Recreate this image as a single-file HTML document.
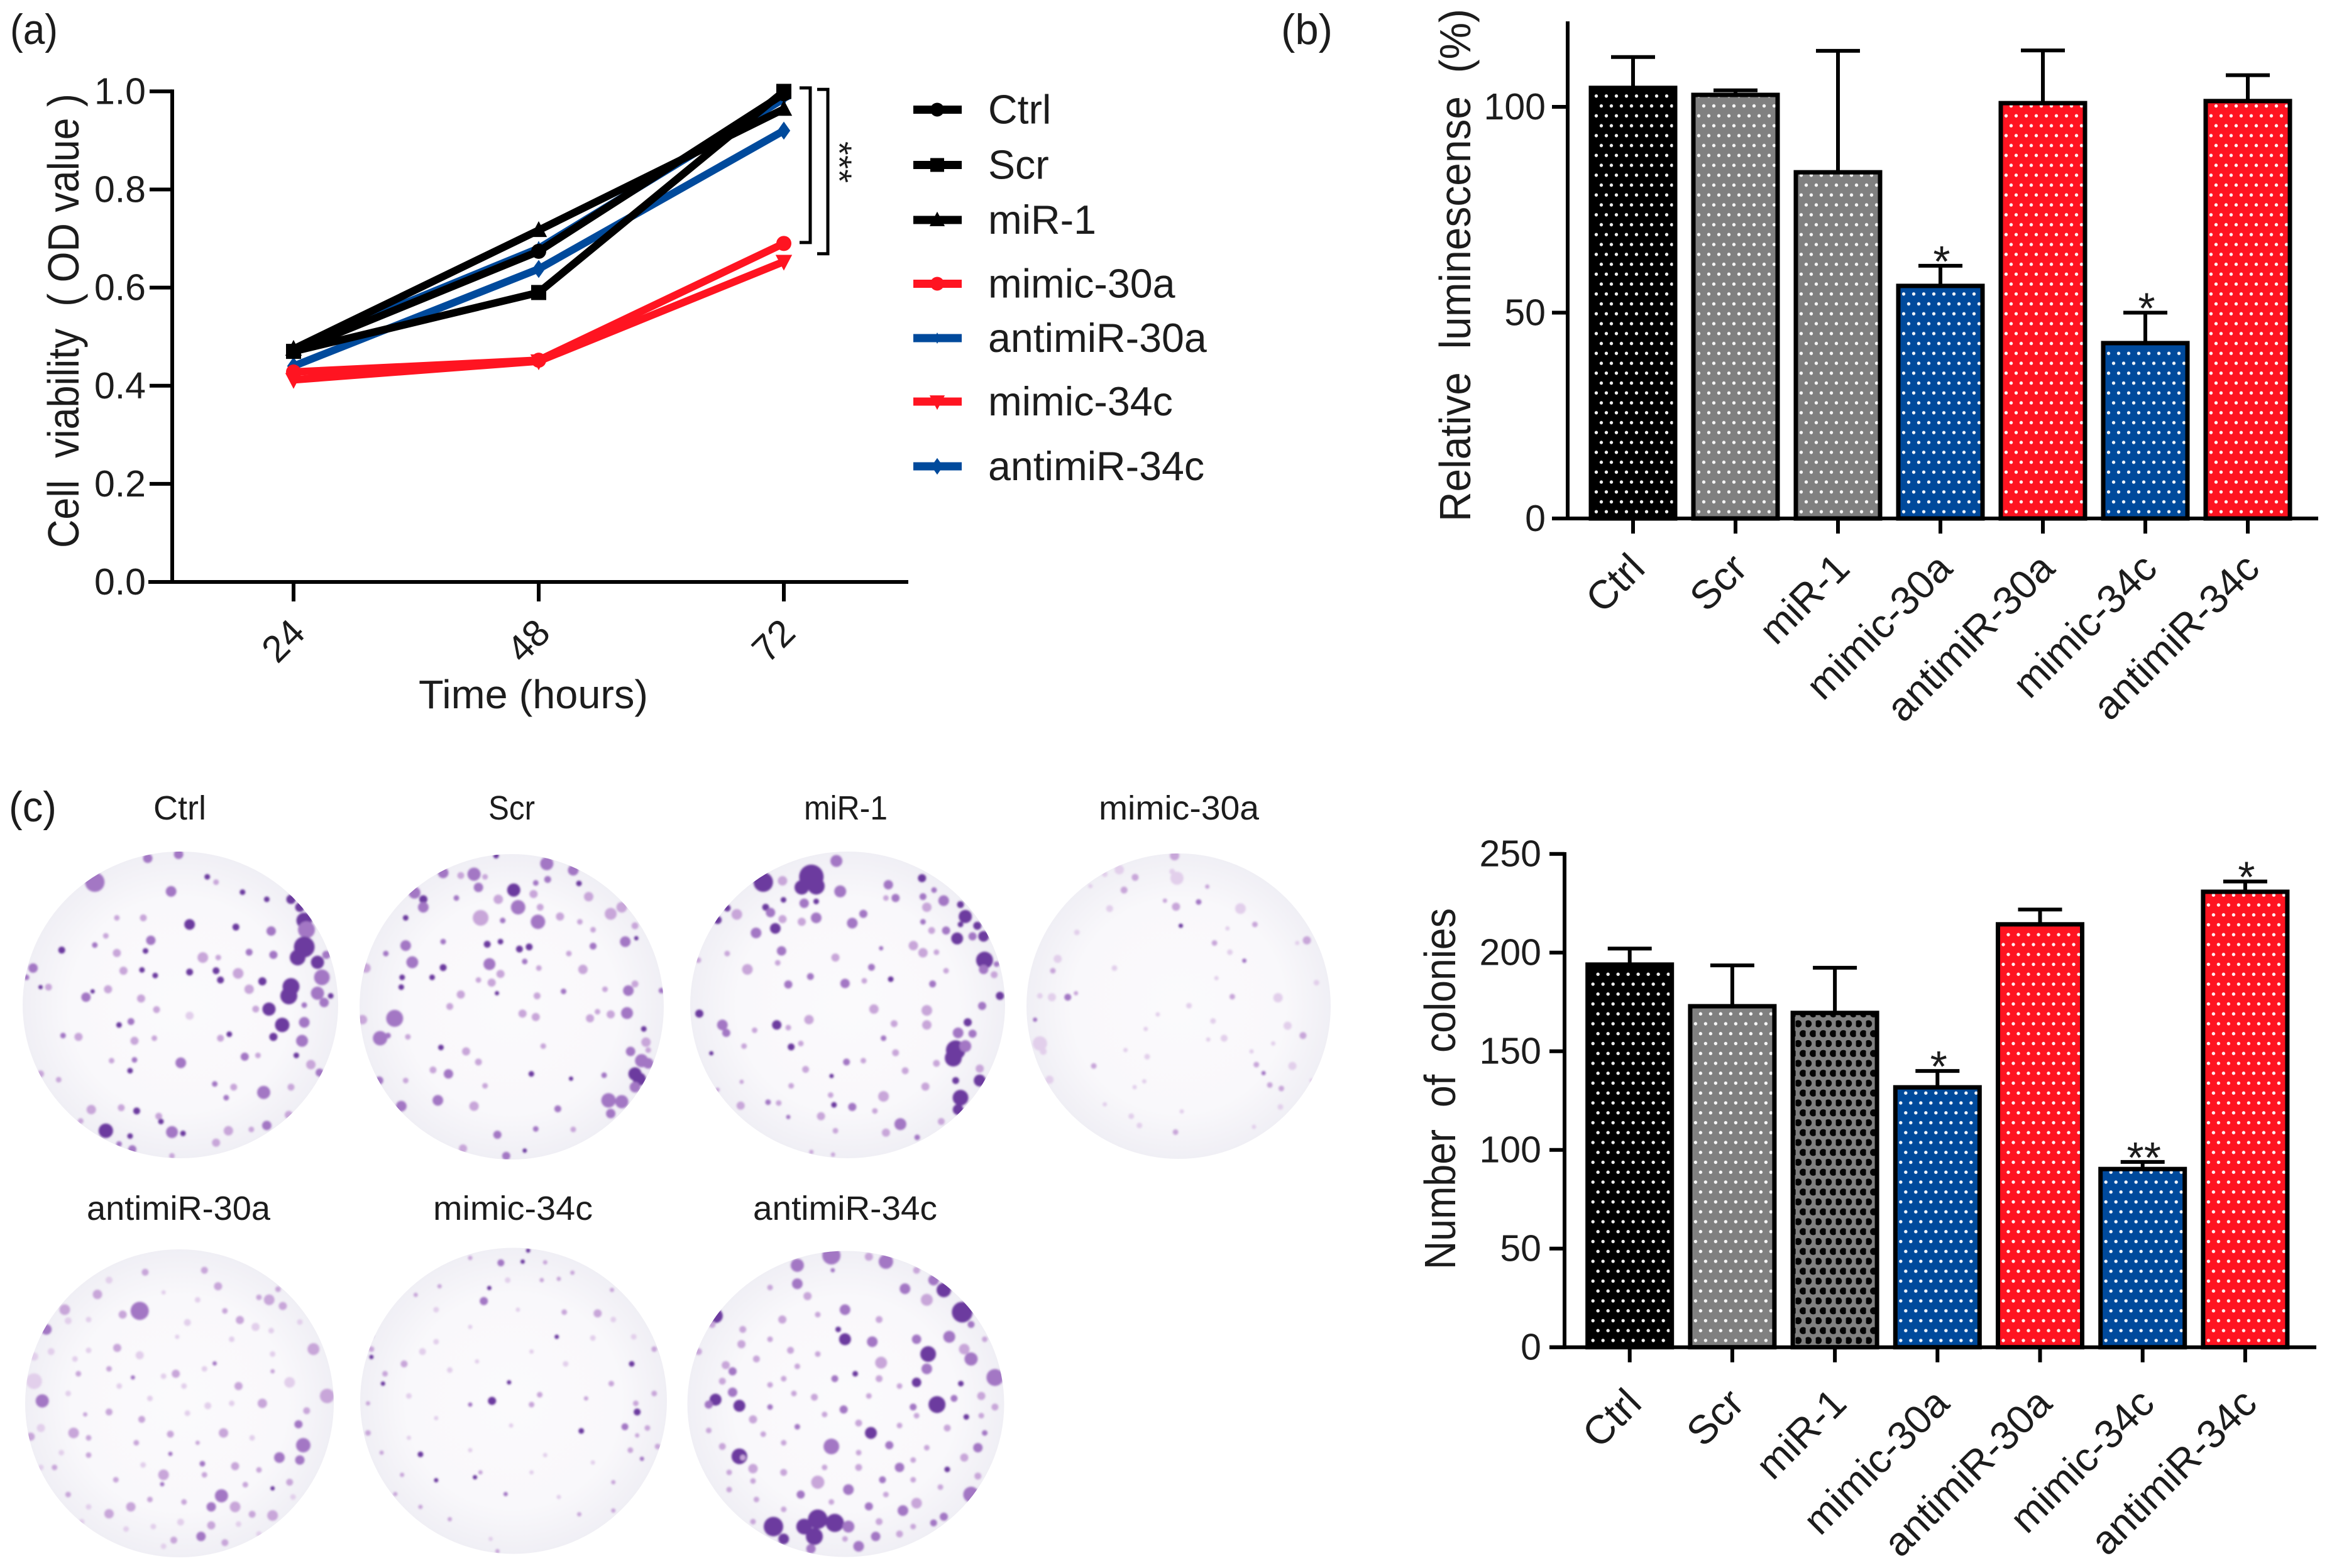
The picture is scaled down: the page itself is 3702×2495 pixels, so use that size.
<!DOCTYPE html>
<html lang="en">
<head>
<meta charset="utf-8">
<title>Cell viability, luminescence and colony formation</title>
<style>
html,body{margin:0;padding:0;background:#fff;width:3702px;height:2495px;overflow:hidden}
svg{display:block}
text{font-family:"Liberation Sans",sans-serif;fill:#1c1c1c;white-space:pre}
</style>
</head>
<body>
<svg id="figure" xmlns="http://www.w3.org/2000/svg" width="3702" height="2495" viewBox="0 0 3702 2495">
  <defs id="defs">
    <filter id="soft" x="-5%" y="-5%" width="110%" height="110%"><feGaussianBlur stdDeviation="1.5"/></filter>
    <radialGradient id="dish-shade" cx="50%" cy="50%" r="50%">
      <stop offset="0%" stop-color="#fbfafc"/>
      <stop offset="70%" stop-color="#f9f8fb"/>
      <stop offset="100%" stop-color="#f0eff5"/>
    </radialGradient>
  </defs>
  <rect width="3702" height="2495" fill="#fff"/>

  <text x="16" y="70" font-size="68" textLength="76" lengthAdjust="spacingAndGlyphs">(a)</text>
  <text x="2038" y="70" font-size="68" textLength="82" lengthAdjust="spacingAndGlyphs">(b)</text>
  <text x="14" y="1307" font-size="68" textLength="76" lengthAdjust="spacingAndGlyphs">(c)</text>

  <g id="panelA">
    <text transform="translate(125 872) rotate(-90)" font-size="70" textLength="723" lengthAdjust="spacingAndGlyphs">Cell  viability  ( OD value )</text>
    <text x="666" y="1127" font-size="64" textLength="365" lengthAdjust="spacingAndGlyphs">Time (hours)</text>
    <g id="legendA"></g>
    <text transform="translate(1316 225) rotate(90)" font-size="56" fill="#333" textLength="66" lengthAdjust="spacing">***</text>
  </g>

  <g id="panelB">
    <text transform="translate(2339 830) rotate(-90)" font-size="70" textLength="816" lengthAdjust="spacingAndGlyphs">Relative  luminescense  (%)</text>
  </g>

  <g id="plates">
    <text x="244" y="1304" font-size="54" textLength="84" lengthAdjust="spacingAndGlyphs">Ctrl</text>
    <text x="777" y="1304" font-size="54" textLength="74" lengthAdjust="spacingAndGlyphs">Scr</text>
    <text x="1279" y="1304" font-size="54" textLength="133" lengthAdjust="spacingAndGlyphs">miR-1</text>
    <text x="1748" y="1304" font-size="54" textLength="255" lengthAdjust="spacingAndGlyphs">mimic-30a</text>
    <text x="138" y="1941" font-size="54" textLength="292" lengthAdjust="spacingAndGlyphs">antimiR-30a</text>
    <text x="689" y="1941" font-size="54" textLength="254" lengthAdjust="spacingAndGlyphs">mimic-34c</text>
    <text x="1198" y="1941" font-size="54" textLength="293" lengthAdjust="spacingAndGlyphs">antimiR-34c</text>
  </g>

  <g id="panelC">
    <text transform="translate(2315 2020) rotate(-90)" font-size="70" textLength="575" lengthAdjust="spacingAndGlyphs">Number  of  colonies</text>
  </g>
</svg>

<script>
// ---------- Panel (a) data ----------
const viabilityTimes = [24, 48, 72];
const viabilityTicks = [0, 0.2, 0.4, 0.6, 0.8, 1.0];
const viabilityCtrl = [0.47, 0.674, 0.995];
const viabilityScr = [0.47, 0.59, 1.0];
const viabilityMir1 = [0.475, 0.717, 0.964];
const viabilityMimic30a = [0.428, 0.452, 0.69];
const viabilityAntimir30a = [0.475, 0.68, 0.985];
const viabilityMimic34c = [0.412, 0.45, 0.653];
const viabilityAntimir34c = [0.44, 0.638, 0.92];
const bracketInner = [1.007, 0.692];
const bracketOuter = [1.004, 0.669];

// ---------- Panel (b) data ----------
const groupNames = ['Ctrl', 'Scr', 'miR-1', 'mimic-30a', 'antimiR-30a', 'mimic-34c', 'antimiR-34c'];
const luminescenceTicks = [0, 50, 100];
const luminescenceValues = [104.6, 102.9, 84.1, 56.5, 100.9, 42.6, 101.4];
const luminescenceErrors = [7.5, 1.1, 29.5, 4.9, 12.8, 7.4, 6.3];
const luminescenceStars = ['', '', '', '*', '', '*', ''];

// ---------- Panel (c) chart data ----------
const coloniesTicks = [0, 50, 100, 150, 200, 250];
const coloniesValues = [193.9, 172.8, 169.4, 131.7, 214.3, 90.3, 230.8];
const coloniesErrors = [8.1, 20.7, 22.9, 8.3, 7.5, 3.6, 5.2];
const coloniesStars = ['', '', '', '*', '', '**', '*'];

// ---------- Colony spots: [x, y, radius, shade] ----------
const spotsCtrl=[[215,365,14,2],[335,275,6,2],[405,260,6,2],[470,345,3,3],[388,400,7,2],[490,365,3,1],[550,403,3,3],[605,430,3,3],[660,430,6,3],[680,460,6,3],[690,510,11,3],[695,545,12,2],[615,550,6,2],[535,535,4,3],[430,525,7,3],[325,500,4,1],[265,500,3,1],[240,568,3,1],[342,585,6,2],[215,603,3,2],[140,622,4,3],[265,633,5,1],[330,625,3,3],[460,650,7,1],[495,650,3,1],[565,630,4,2],[620,640,5,2],[690,610,15,3],[675,650,11,3],[720,668,9,3],[740,640,5,2],[730,725,11,2],[660,760,12,3],[655,795,12,3],[720,785,9,2],[750,795,3,3],[735,820,6,2],[690,830,3,2],[610,845,9,3],[580,845,4,1],[640,905,10,3],[690,895,7,2],[620,950,5,3],[685,965,8,2],[565,770,6,1],[595,740,5,3],[500,735,4,3],[490,700,4,3],[540,710,7,1],[430,705,4,3],[322,697,3,3],[352,718,3,3],[280,700,5,1],[75,690,6,2],[60,725,3,2],[110,762,4,1],[92,762,2,3],[195,800,6,2],[210,778,2,3],[245,770,5,1],[320,805,5,1],[355,847,4,1],[270,905,3,3],[297,892,4,2],[143,945,3,2],[178,950,5,1],[305,965,5,1],[350,955,3,1],[520,940,3,3],[500,955,4,1],[430,870,5,0],[410,1048,7,2],[305,1037,3,2],[253,1040,3,1],[555,1025,5,2],[585,1020,3,1],[672,1020,3,3],[295,1078,3,3],[92,1090,4,1],[705,1055,6,1],[725,1085,5,2],[133,1112,3,1],[487,1128,3,2],[530,1140,4,1],[598,1160,9,2],[660,1140,4,1],[513,1180,3,2],[207,1225,6,1],[275,1218,4,1],[310,1230,4,3],[360,1250,4,1],[655,1245,5,1],[240,1305,10,3],[183,1268,3,1],[390,1310,8,2],[415,1315,3,3],[365,1270,3,3],[518,1305,6,1],[605,1285,6,2],[295,1325,3,3],[300,1375,5,2],[270,1355,3,2],[490,1350,5,1],[570,1300,3,1],[390,1400,3,1]];
const spotsScr=[[1125,265,3,3],[1240,295,9,2],[1300,320,7,2],[1005,330,7,2],[1075,335,9,2],[1045,340,4,1],[1100,345,3,1],[1085,385,6,2],[1242,355,4,2],[1215,368,3,2],[1313,370,3,3],[940,405,8,2],[960,430,5,3],[960,460,7,2],[1165,395,9,3],[1175,460,10,2],[1130,430,6,1],[1210,410,5,1],[1225,460,4,1],[1035,425,3,2],[1090,500,11,1],[1220,515,10,2],[1270,495,5,1],[1335,420,6,1],[1385,485,8,1],[1410,460,7,1],[920,500,3,3],[1140,510,3,2],[1315,515,3,1],[1345,545,3,1],[1440,530,4,1],[860,520,3,1],[920,605,7,2],[875,635,3,2],[935,668,8,2],[1005,590,3,2],[1105,600,4,3],[1135,590,3,3],[1178,618,4,3],[1200,610,4,3],[1345,607,4,2],[1418,590,7,2],[1443,577,2,3],[1290,635,3,1],[1005,688,4,3],[1110,675,8,2],[1135,712,5,1],[1190,665,3,2],[1222,690,3,1],[1322,695,6,1],[830,690,6,1],[912,725,3,3],[980,725,3,3],[1115,745,5,1],[1085,735,3,1],[910,762,3,3],[1045,790,5,1],[1127,785,2,3],[1218,795,4,1],[1278,778,3,2],[1425,775,7,2],[1372,770,3,1],[1440,750,4,1],[1500,775,3,2],[1020,835,4,1],[895,880,12,2],[822,885,6,1],[1185,862,5,1],[1215,875,5,1],[1338,880,5,1],[1385,865,5,1],[1422,860,8,2],[1355,855,3,1],[862,955,10,2],[880,945,3,2],[925,950,3,1],[1000,990,3,3],[1057,1005,5,1],[1232,985,3,1],[1460,920,3,3],[1465,970,6,1],[1430,1005,6,2],[1455,1040,9,2],[1470,1050,7,2],[1440,1090,9,3],[1450,1110,9,3],[1440,1140,7,2],[1470,1000,3,1],[1085,1045,4,1],[982,1075,4,1],[1017,1090,6,2],[1205,1090,3,3],[1295,1108,2,3],[1370,1095,3,2],[860,1115,5,2],[920,1115,3,1],[1100,1135,3,1],[993,1190,7,2],[1380,1190,10,2],[1410,1195,9,2],[1385,1240,6,2],[910,1212,7,2],[1075,1212,6,1],[1265,1222,4,2],[1128,1320,5,2],[1215,1298,3,2],[1300,1300,3,1],[1148,1400,5,2],[1050,1372,5,1],[1190,1380,2,3]];
const spotsMir1=[[380,345,18,3],[390,380,12,3],[360,385,10,3],[432,285,8,2],[280,365,14,3],[320,360,6,1],[440,400,8,2],[365,445,6,2],[322,432,3,3],[390,438,3,3],[285,460,4,3],[295,480,6,2],[320,505,5,1],[225,487,7,1],[205,463,4,3],[185,508,5,3],[305,540,7,3],[265,557,7,2],[360,515,5,1],[390,500,7,2],[465,520,7,2],[488,485,5,2],[540,375,6,2],[555,425,5,2],[535,425,3,1],[610,350,5,3],[635,395,3,2],[612,420,4,2],[620,460,6,1],[655,435,7,2],[690,450,4,3],[700,495,9,3],[690,525,3,3],[725,530,5,3],[660,548,5,2],[630,548,4,1],[683,578,8,3],[715,570,5,2],[738,570,7,3],[612,515,3,2],[525,615,2,2],[592,605,6,1],[612,632,6,1],[640,630,3,1],[318,625,6,2],[430,650,5,1],[247,695,7,1],[205,635,3,1],[145,660,3,1],[310,670,3,1],[505,687,4,2],[740,660,12,3],[738,695,6,2],[765,675,3,2],[378,722,4,2],[332,752,5,2],[450,748,6,2],[545,732,3,3],[490,738,3,1],[632,750,4,2],[660,700,3,1],[760,715,4,1],[772,795,5,3],[735,833,5,2],[510,845,6,1],[620,850,7,1],[147,862,5,3],[375,885,6,1],[308,905,6,3],[332,915,3,1],[195,905,7,2],[203,935,5,2],[552,900,4,1],[620,905,6,1],[705,895,5,3],[685,935,7,2],[715,938,5,2],[262,925,3,1],[338,988,4,3],[358,975,3,1],[172,1012,2,3],[240,985,3,1],[530,955,3,2],[680,1000,14,3],[675,1030,12,3],[700,985,8,2],[555,1010,4,1],[453,1045,4,2],[368,1073,4,1],[488,1040,3,1],[575,1078,4,1],[640,1050,4,1],[730,1070,5,1],[422,1098,2,3],[730,1115,8,3],[680,1115,4,3],[617,1138,5,1],[338,1135,3,1],[690,1180,11,3],[685,1225,7,3],[530,1175,7,1],[420,1170,3,1],[290,1197,3,2],[312,1200,3,1],[233,1210,5,1],[427,1207,3,3],[465,1215,5,2],[512,1230,3,1],[332,1253,2,2],[400,1250,5,1],[565,1280,8,2],[535,1312,5,1],[650,1270,4,1],[600,1330,3,2],[430,1305,3,1],[425,1395,2,1],[380,1385,2,1],[235,1120,2,1],[185,1150,2,1]];
const spotsMimic30a=[[1135,265,6,1],[1020,318,6,0],[1053,347,4,1],[1030,395,4,1],[990,335,3,0],[1140,350,9,0],[1130,325,3,0],[1138,458,5,1],[1115,435,2,1],[1185,440,3,2],[1203,382,2,1],[1000,465,4,0],[960,380,2,0],[1272,465,7,0],[1302,525,3,1],[1148,530,2,3],[1245,540,2,0],[932,555,3,0],[1218,595,3,1],[1410,585,5,1],[1390,595,2,0],[892,655,5,0],[1250,630,3,0],[882,700,3,1],[1010,690,3,0],[1280,662,2,2],[1222,728,2,0],[913,800,4,2],[930,785,2,1],[855,795,3,0],[880,800,5,0],[1430,745,3,0],[1255,798,3,1],[1350,802,6,0],[1165,832,3,0],[845,885,2,2],[1215,890,3,0],[1100,865,2,0],[1370,908,5,0],[1402,945,4,1],[1238,955,4,0],[855,975,10,0],[862,1005,4,0],[1075,920,2,0],[1205,960,2,0],[1340,975,2,0],[1295,1005,2,0],[1078,1025,3,0],[1033,1000,2,0],[967,1060,3,1],[1305,1055,3,1],[1380,1060,5,0],[1320,1087,2,2],[875,1112,5,0],[1333,1132,3,1],[1357,1145,3,1],[1072,1118,2,0],[1052,1140,2,0],[1355,1215,3,0],[1150,1232,2,0],[990,1205,2,0],[1045,1250,3,0],[1062,1285,3,0],[1137,1310,3,1],[1300,1290,2,0],[1420,1115,2,0]];
const spotsAntimir30a=[[300,360,4,1],[320,425,5,1],[213,368,4,1],[160,400,4,0],[143,458,6,1],[408,437,3,1],[395,480,7,1],[380,470,3,1],[415,505,5,1],[205,525,13,2],[180,540,5,1],[95,520,7,1],[100,565,4,0],[68,600,7,2],[275,572,4,0],[352,562,5,1],[375,590,5,0],[330,525,3,1],[398,605,3,0],[172,675,5,1],[205,705,5,0],[130,685,3,0],[460,680,8,1],[50,710,5,0],[75,690,4,0],[315,738,2,2],[258,780,5,1],[240,790,3,0],[115,780,3,1],[195,795,2,2],[50,810,11,0],[350,830,5,1],[175,830,3,0],[270,830,3,0],[425,815,7,0],[62,890,9,2],[385,900,6,1],[480,870,10,1],[305,910,4,0],[275,940,3,0],[160,935,4,1],[438,985,5,2],[208,965,4,1],[125,945,2,1],[60,1000,5,0],[45,1035,5,1],[108,1020,7,1],[328,1020,6,1],[250,1025,4,1],[445,1070,10,2],[410,1120,7,2],[440,1130,6,2],[345,1155,5,1],[297,1145,3,2],[250,1105,2,2],[130,1110,3,1],[80,1160,3,1],[210,1150,3,0],[240,1190,7,1],[380,1170,3,1],[360,1230,3,1],[238,1228,2,2],[400,1245,2,3],[425,1220,4,1],[325,1275,9,2],[310,1320,6,2],[345,1320,7,1],[192,1320,6,1],[160,1348,6,1],[130,1320,3,0],[400,1355,7,1],[370,1350,4,1],[265,1382,4,0],[310,1395,5,1],[225,1400,3,0],[295,1440,6,2],[255,1455,4,1],[330,1465,4,1],[185,1410,3,0],[350,1390,3,0],[430,1280,3,0],[240,450,2,0],[290,480,3,0],[130,560,3,0],[440,570,3,0],[260,630,2,0],[340,640,3,0],[110,720,3,0],[400,700,3,0],[160,760,3,1],[300,760,3,0],[400,770,2,1],[100,860,3,0],[220,880,3,0],[340,900,3,0],[450,930,4,1],[130,1040,3,1],[200,1060,3,1],[290,1060,2,1],[370,1040,3,0],[90,1100,3,0],[170,1210,3,1],[300,1190,3,1],[100,1270,3,1],[60,1160,3,0],[220,1290,3,1],[270,1300,3,1],[120,1380,3,0],[380,1430,3,0],[240,1480,3,0]];
const spotsMimic34c=[[775,280,2,3],[735,330,4,2],[767,325,2,3],[800,328,2,1],[690,310,2,1],[718,432,2,3],[645,425,2,1],[710,485,5,2],[745,400,3,0],[795,400,2,1],[820,395,2,1],[840,370,2,1],[877,535,5,1],[828,530,3,1],[898,440,2,1],[610,460,2,1],[817,630,2,3],[870,635,3,0],[545,625,2,3],[545,712,2,3],[545,680,3,1],[960,680,3,1],[780,690,2,0],[593,740,4,1],[927,740,3,3],[565,780,3,1],[562,820,2,3],[747,815,2,3],[897,820,3,1],[722,890,5,3],[690,905,2,2],[792,865,3,1],[933,900,3,1],[935,935,4,3],[780,905,3,1],[917,995,4,2],[853,1012,3,3],[540,1020,3,1],[935,1030,2,1],[965,1075,3,1],[617,1107,3,3],[925,1090,3,1],[942,1125,2,2],[705,1180,2,1],[640,1212,2,3],[590,1190,2,1],[900,1220,2,1],[742,1268,2,2],[697,1200,2,3],[580,1268,2,1],[617,1320,2,1],[660,1370,2,1],[850,1350,2,1],[730,1500,2,1],[900,1335,2,1],[720,1450,2,0],[620,690,4,0],[660,765,3,0],[640,520,3,0],[760,520,2,0],[690,590,2,0],[900,560,3,0],[930,630,3,0],[640,650,3,0],[700,730,2,0],[830,740,3,0],[600,870,3,0],[860,880,2,1],[640,960,2,0],[750,990,2,0],[600,1040,2,0],[800,1110,2,0],[870,1140,2,0],[690,1090,2,0],[780,1180,2,0],[560,1100,2,1],[820,1280,2,0],[950,1000,3,1],[960,860,3,1],[540,900,2,1]];
const spotsAntimir34c=[[1220,300,13,2],[1170,340,9,2],[1300,325,10,2],[1275,305,5,1],[1345,360,4,1],[1385,440,10,3],[1370,400,7,2],[1170,415,7,2],[1130,430,3,1],[1328,435,7,2],[1185,465,5,1],[1222,360,2,2],[1360,480,8,1],[1050,545,10,3],[1045,580,4,1],[1240,520,7,2],[1148,560,5,1],[1290,560,4,1],[1412,530,15,3],[1425,580,4,2],[1240,640,8,3],[1230,600,3,3],[1280,650,7,2],[1345,640,6,2],[1393,630,8,2],[1088,660,5,1],[1160,685,4,1],[1362,700,11,3],[1415,680,7,1],[1425,720,9,2],[1445,640,3,1],[1025,690,4,1],[1293,735,8,1],[1360,760,7,2],[1065,745,5,1],[1075,770,5,2],[1170,750,3,1],[1255,780,3,3],[1225,800,4,2],[1460,795,12,2],[1345,815,6,3],[1410,820,3,3],[1130,825,3,1],[1075,855,6,2],[1050,885,8,3],[1085,910,8,3],[1040,905,5,2],[1375,905,12,3],[1195,875,4,1],[1275,870,3,1],[1165,860,3,1],[1340,915,4,2],[1238,925,5,2],[1210,945,3,1],[1105,965,5,1],[1418,955,3,3],[1345,950,3,1],[1460,915,4,1],[1278,1020,8,3],[1220,1075,11,2],[1305,1070,5,2],[1170,995,3,2],[1060,1075,4,1],[1040,1010,3,1],[1120,1025,3,1],[1445,1020,3,2],[1435,1080,6,2],[1085,1115,11,3],[1415,1120,5,1],[1360,1080,3,1],[1105,1165,6,1],[1320,1160,6,2],[1390,1168,3,3],[1260,1160,4,1],[1435,1195,4,1],[1200,1220,9,1],[1245,1250,7,2],[1295,1210,4,2],[1105,1215,3,1],[1175,1270,5,2],[1425,1270,11,2],[1340,1210,3,1],[1110,1290,3,1],[1345,1305,7,1],[1275,1318,5,2],[1325,1335,7,2],[1385,1360,5,2],[1135,1400,14,3],[1200,1370,14,3],[1180,1400,11,3],[1225,1385,13,3],[1195,1440,12,3],[1245,1400,8,2],[1190,1490,6,2],[1260,1480,7,2],[1285,1440,6,2],[1150,1450,7,3],[1105,1380,3,1],[1320,1430,4,1],[1370,1385,4,2],[1090,1120,3,1],[1240,1450,3,1],[1090,600,4,1],[1200,540,3,1],[1130,640,3,1],[1200,700,3,1],[1110,720,4,1],[1060,810,4,1],[1150,800,3,1],[1290,800,4,1],[1320,830,3,1],[1440,870,5,1],[1400,880,4,2],[1130,915,3,2],[1260,980,4,1],[1320,990,3,1],[1390,1000,4,1],[1440,950,3,1],[1150,1060,3,1],[1260,1100,3,1],[1340,1130,3,1],[1210,1160,3,1],[1150,1180,4,1],[1070,1180,3,1],[1380,1240,3,1],[1300,1270,3,1],[1220,1300,3,1],[1150,1330,3,1],[1070,1250,3,1],[1290,1380,4,1],[1060,1330,3,1],[1340,1400,3,1]];

// ---------- Helpers ----------
const NS = 'http://www.w3.org/2000/svg';
const BLUE = '#004a9c', RED = '#ff1421', GREY = '#808080', BLACK = '#000';

function make(tag, parent, name) {
  const el = document.createElementNS(NS, tag);
  
  
  parent.appendChild(el);
  return el;
}
function setAll(el, props) {
  for (const k in props) el.setAttribute(k, props[k]);
  return el;
}
function line(parent, name, x1, y1, x2, y2, w, color) {
  return setAll(make('line', parent, name), {x1, y1, x2, y2, stroke: color || BLACK, 'stroke-width': w});
}
function label(parent, name, str, x, y, size, anchor, rot) {
  const t = make('text', parent, name);
  t.textContent = str;
  setAll(t, {'font-size': size, 'text-anchor': anchor || 'start'});
  if (rot) t.setAttribute('transform', 'translate(' + x + ' ' + y + ') rotate(' + rot + ')');
  else setAll(t, {x, y});
  return t;
}
function marker(parent, name, shape, x, y, color, s) {
  let el;
  if (shape === 'circle') {
    el = setAll(make('circle', parent, name), {cx: x, cy: y, r: s});
  } else if (shape === 'square') {
    el = setAll(make('rect', parent, name), {x: x - s, y: y - s, width: 2 * s, height: 2 * s});
  } else {
    const pts = {
      up: [[0, -s * 1.2], [s * 1.1, s * .9], [-s * 1.1, s * .9]],
      down: [[0, s * 1.2], [s * 1.1, -s * .9], [-s * 1.1, -s * .9]],
      diamond: [[0, -s * 1.2], [s * .85, 0], [0, s * 1.2], [-s * .85, 0]],
      star: [[0, -s], [s * .35, -s * .3], [s, 0], [s * .35, s * .3], [0, s], [-s * .35, s * .3], [-s, 0], [-s * .35, -s * .3]]
    }[shape];
    el = setAll(make('polygon', parent, name), {points: pts.map(p => (x + p[0]) + ',' + (y + p[1])).join(' ')});
  }
  el.setAttribute('fill', color);
}

// ---------- Panel (a) ----------
const panelA = document.getElementById('panelA');
const xA = t => 467 + (t - 24) * (780 / 48);
const yA = v => 926 - 780.6 * v;

line(panelA, 'viability-y-axis', 274, yA(1) - 3, 274, yA(0) + 3, 6);
line(panelA, 'viability-x-axis', 236, yA(0), 1445, yA(0), 6);
viabilityTicks.forEach(v => {
  line(panelA, 'viability-y-tick', 238, yA(v), 274, yA(v), 6);
  label(panelA, 'viability-y-tick-label', v.toFixed(1), 232, yA(v) + 20, 59, 'end');
});
viabilityTimes.forEach(t => {
  line(panelA, 'viability-x-tick', xA(t), yA(0), xA(t), 957, 6);
  label(panelA, 'viability-x-tick-label', String(t), xA(t) - 2, 1034, 60, 'middle', -45);
});

const viabilitySeries = [
  {key: 'antimir-34c', name: 'antimiR-34c', values: viabilityAntimir34c, color: BLUE, shape: 'diamond', legendY: 742},
  {key: 'mimic-34c', name: 'mimic-34c', values: viabilityMimic34c, color: RED, shape: 'down', legendY: 639},
  {key: 'antimir-30a', name: 'antimiR-30a', values: viabilityAntimir30a, color: BLUE, shape: 'star', legendY: 538},
  {key: 'mimic-30a', name: 'mimic-30a', values: viabilityMimic30a, color: RED, shape: 'circle', legendY: 451.5},
  {key: 'mir-1', name: 'miR-1', values: viabilityMir1, color: BLACK, shape: 'up', legendY: 350},
  {key: 'scr', name: 'Scr', values: viabilityScr, color: BLACK, shape: 'square', legendY: 262.5},
  {key: 'ctrl', name: 'Ctrl', values: viabilityCtrl, color: BLACK, shape: 'circle', legendY: 174.5}
];
const legendA = document.getElementById('legendA');
viabilitySeries.forEach(s => {
  const g = make('g', panelA, 'viability-series-' + s.key);
  const path = make('polyline', g, 'viability-line-' + s.key);
  setAll(path, {
    points: s.values.map((v, i) => xA(viabilityTimes[i]) + ',' + yA(v)).join(' '),
    fill: 'none', stroke: s.color, 'stroke-width': 12, 'stroke-linejoin': 'miter'
  });
  s.values.forEach((v, i) => {
    marker(g, 'viability-point-' + s.key, s.shape, xA(viabilityTimes[i]), yA(v), s.color, 12);
  });
  const entry = make('g', legendA, 'legend-entry-' + s.key);
  line(entry, 'legend-line-' + s.key, 1453, s.legendY, 1530, s.legendY, 13, s.color);
  marker(entry, 'legend-marker-' + s.key, s.shape, 1491, s.legendY, s.color, s.shape === 'star' ? 9 : 11);
  label(entry, 'legend-label-' + s.key, s.name, 1572, s.legendY + 22, 64.5);
});
panelA.appendChild(legendA);

[[bracketInner, 1272, 1289, 'inner'], [bracketOuter, 1300, 1317, 'outer']].forEach(b => {
  const p = make('polyline', panelA, 'viability-significance-bracket-' + b[3]);
  setAll(p, {
    points: b[1] + ',' + yA(b[0][0]) + ' ' + b[2] + ',' + yA(b[0][0]) + ' ' + b[2] + ',' + yA(b[0][1]) + ' ' + b[1] + ',' + yA(b[0][1]),
    fill: 'none', stroke: BLACK, 'stroke-width': 5
  });
});

// ---------- Bar charts ----------
const barStyles = [
  {fill: BLACK, dot: '#fff'},
  {fill: GREY, dot: '#fff'},
  {fill: GREY, dot: '#fff'},
  {fill: BLUE, dot: '#fff'},
  {fill: RED, dot: '#fff'},
  {fill: BLUE, dot: '#fff'},
  {fill: RED, dot: '#fff'}
];
const defs = document.getElementById('defs');

function barPattern(id, left, y0, style, blobs) {
  const p = document.createElementNS(NS, 'pattern');
  setAll(p, {id, patternUnits: 'userSpaceOnUse', width: 16, height: 31.5, x: left + 8, y: y0 - 18.7});
  const bg = document.createElementNS(NS, 'rect');
  setAll(bg, {width: 16, height: 31.5, fill: style.fill});
  p.appendChild(bg);
  [[4, 8], [12, 23.75]].forEach(c => {
    const d = document.createElementNS(NS, 'circle');
    if (blobs) setAll(d, {cx: c[0], cy: c[1], r: 5.6, fill: '#050505'});
    else setAll(d, {cx: c[0], cy: c[1], r: 2.7, fill: style.dot, 'fill-opacity': .93});
    p.appendChild(d);
  });
  defs.appendChild(p);
}

function barChart(cfg) {
  const g = cfg.root;
  const y = v => cfg.y0 - cfg.scale * v;
  const x = i => cfg.x0 + cfg.step * i;
  line(g, cfg.prefix + '-y-axis', cfg.axisX, cfg.top, cfg.axisX, cfg.y0 + 3, 6);
  line(g, cfg.prefix + '-x-axis', cfg.tickLeft, cfg.y0, cfg.xEnd, cfg.y0, 6);
  cfg.ticks.forEach(v => {
    line(g, cfg.prefix + '-y-tick', cfg.tickLeft, y(v), cfg.axisX, y(v), 6);
    label(g, cfg.prefix + '-y-tick-label', String(v), cfg.tickLabelX, y(v) + 20, 59, 'end');
  });
  cfg.values.forEach((v, i) => {
    const cx = x(i), w = 134, left = cx - w / 2 - 3.5;
    const top = y(v), errTop = y(v + cfg.errors[i]);
    const pid = cfg.prefix + '-pat-' + i;
    barPattern(pid, left, cfg.y0, barStyles[i], cfg.blobIndex === i);
    line(g, cfg.prefix + '-error-stem-' + i, cx, top, cx, errTop, 6);
    line(g, cfg.prefix + '-error-cap-' + i, cx - 35, errTop, cx + 35, errTop, 6);
    const bar = make('rect', g, cfg.prefix + '-bar-' + groupNames[i].toLowerCase());
    setAll(bar, {x: cx - w / 2, y: top, width: w, height: cfg.y0 - top, fill: 'url(#' + pid + ')', stroke: BLACK, 'stroke-width': 7});
    line(g, cfg.prefix + '-x-tick', cx, cfg.y0, cx, cfg.y0 + 24, 6);
    label(g, cfg.prefix + '-x-tick-label', groupNames[i], cx + 22, cfg.y0 + cfg.labelDrop, 64, 'end', -45);
    if (cfg.stars[i]) {
      const st = label(g, cfg.prefix + '-significance-star', cfg.stars[i], cx + 2, errTop - 21 + 38, 70, 'middle');
      st.setAttribute('fill', '#2a2a2a');
    }
  });
}

barChart({
  root: document.getElementById('panelB'), prefix: 'luminescence',
  values: luminescenceValues, errors: luminescenceErrors, stars: luminescenceStars, ticks: luminescenceTicks,
  y0: 825, scale: 6.55, x0: 2598, step: 163, axisX: 2494, top: 34, tickLeft: 2469, xEnd: 3688, tickLabelX: 2459, labelDrop: 83, blobIndex: -1
});
barChart({
  root: document.getElementById('panelC'), prefix: 'colonies',
  values: coloniesValues, errors: coloniesErrors, stars: coloniesStars, ticks: coloniesTicks,
  y0: 2143.7, scale: 3.14, x0: 2592.7, step: 163.2, axisX: 2489, top: 1356, tickLeft: 2465, xEnd: 3685, tickLabelX: 2452, labelDrop: 93, blobIndex: 2
});

// ---------- Colony plates ----------
const shades = ['#e2cfeb', '#c8a6d9', '#a377c4', '#6c3a9f'];
const plateCrops = {
  top1: {ox: 0, oy: 1250, fx: 1.4255, fy: 2.3758},
  top2: {ox: 1000, oy: 1250, fx: 1.3067, fy: 2.3758},
  bottom: {ox: 0, oy: 1880, fx: 0.9224, fy: 2.5496}
};
const plateList = [
  {key: 'ctrl', cx: 287, cy: 1599, rx: 251, ry: 244, spots: spotsCtrl, crop: plateCrops.top1},
  {key: 'scr', cx: 814, cy: 1602, rx: 242, ry: 243, spots: spotsScr, crop: plateCrops.top1},
  {key: 'mir-1', cx: 1348.5, cy: 1599, rx: 250.5, ry: 244, spots: spotsMir1, crop: plateCrops.top2},
  {key: 'mimic-30a', cx: 1875, cy: 1601, rx: 242, ry: 243, spots: spotsMimic30a, crop: plateCrops.top2},
  {key: 'antimir-30a', cx: 285.5, cy: 2233, rx: 245.5, ry: 245, spots: spotsAntimir30a, crop: plateCrops.bottom},
  {key: 'mimic-34c', cx: 817, cy: 2229, rx: 244, ry: 243.5, spots: spotsMimic34c, crop: plateCrops.bottom},
  {key: 'antimir-34c', cx: 1345.5, cy: 2234, rx: 252, ry: 243.5, spots: spotsAntimir34c, crop: plateCrops.bottom}
];
const platesRoot = document.getElementById('plates');
plateList.forEach(pl => {
  const cp = document.createElementNS(NS, 'clipPath');
  cp.setAttribute('id', 'clip-' + pl.key);
  const ce = document.createElementNS(NS, 'ellipse');
  setAll(ce, {cx: pl.cx, cy: pl.cy, rx: pl.rx, ry: pl.ry});
  cp.appendChild(ce);
  defs.appendChild(cp);
  const g = make('g', platesRoot, 'colony-plate-' + pl.key);
  setAll(make('ellipse', g, 'plate-dish-' + pl.key), {cx: pl.cx, cy: pl.cy, rx: pl.rx, ry: pl.ry, fill: 'url(#dish-shade)'});
  const spots = make('g', g, 'plate-colonies-' + pl.key);
  setAll(spots, {'clip-path': 'url(#clip-' + pl.key + ')'});
  const inner = make('g', spots, 'plate-colonies-blur-' + pl.key);
  inner.setAttribute('filter', 'url(#soft)');
  pl.spots.forEach(s => {
    const c = make('circle', inner, 'colony');
    setAll(c, {cx: pl.crop.ox + s[0] / pl.crop.fx, cy: pl.crop.oy + s[1] / pl.crop.fy, r: s[2] + 1.5, fill: shades[s[3]]});
  });
});
</script>
</body>
</html>
